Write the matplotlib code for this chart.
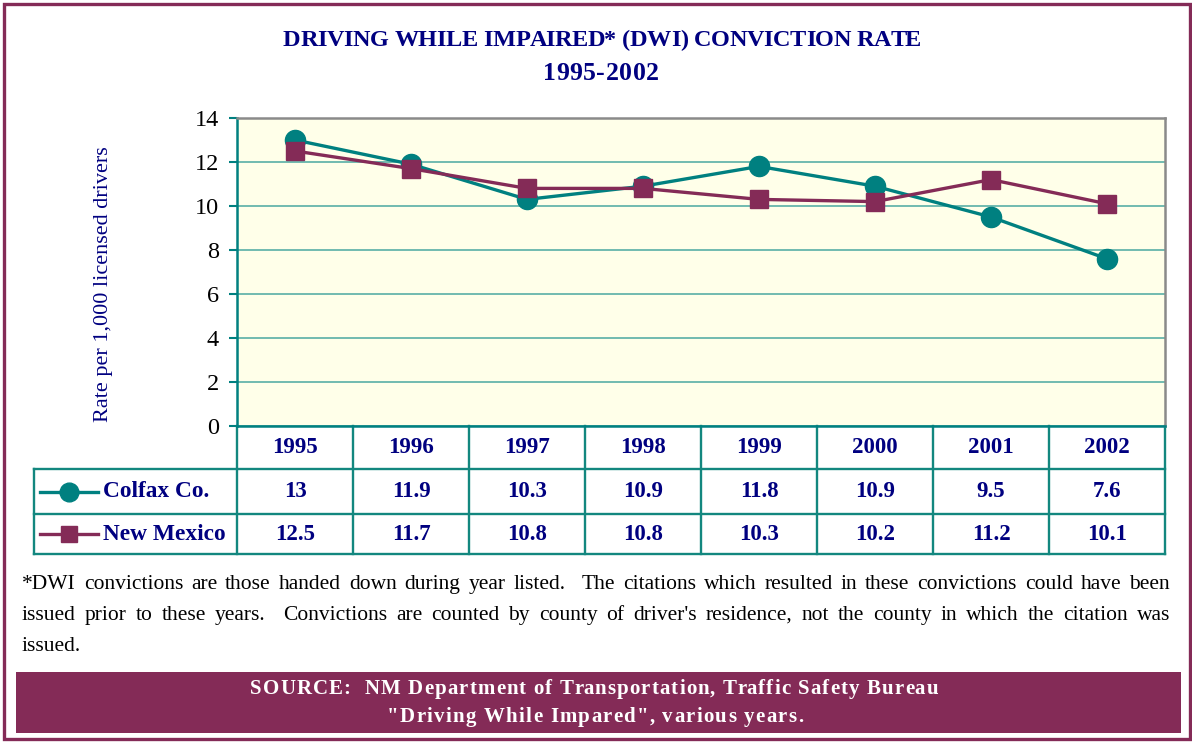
import re
import matplotlib
matplotlib.use("Agg")
import matplotlib.pyplot as plt
from matplotlib.patches import Rectangle
from matplotlib.lines import Line2D
from matplotlib.transforms import blended_transform_factory

# ---- data -------------------------------------------------------------
years = ["1995", "1996", "1997", "1998", "1999", "2000", "2001", "2002"]
colfax = [13, 11.9, 10.3, 10.9, 11.8, 10.9, 9.5, 7.6]
new_mexico = [12.5, 11.7, 10.8, 10.8, 10.3, 10.2, 11.2, 10.1]
series_labels = ["Colfax Co.", "New Mexico"]
y_ticks = [0, 2, 4, 6, 8, 10, 12, 14]

title_lines = ["DRIVING WHILE IMPAIRED* (DWI) CONVICTION RATE", "1995-2002"]
y_label = "Rate per 1,000 licensed drivers"
footnote_lines = [
    "*DWI convictions are those handed down during year listed.  The citations which resulted in these convictions could have been",
    "issued prior to these years.  Convictions are counted by county of driver's residence, not the county in which the citation was",
    "issued.",
]
source_lines = [
    "SOURCE:  NM Department of Transportation, Traffic Safety Bureau",
    "\"Driving While Impared\", various years.",
]

# ---- style ------------------------------------------------------------
TEAL = "#008080"
MAROON = "#842B57"
NAVY = "#000080"
GRID = "#66B5AC"
TABLE = "#13877F"
PLOT_BG = "#FFFFE9"

plt.rcParams["font.family"] = ["Liberation Serif", "DejaVu Serif"]

W, H = 1192, 742
fig = plt.figure(figsize=(W / 100, H / 100), dpi=100)
fig.patch.set_facecolor("white")
renderer = fig.canvas.get_renderer()


def fxy(x, y):
    return x / W, 1 - y / H


def text_width(s, **kw):
    t = fig.text(0, 0, s, **kw)
    w = t.get_window_extent(renderer).width
    t.remove()
    return w


def spaced_text(s, x0, x1, y, **kw):
    """Place the characters of s one by one so the line spans x0..x1 (pixels)."""
    bar = text_width("|", **kw)
    natural = text_width(s, **kw)
    extra = (x1 - x0 - natural) / max(len(s) - 1, 1)
    for i, ch in enumerate(s):
        if ch == " ":
            continue
        off = text_width(s[:i] + "|", **kw) - bar if i else 0.0
        fig.text(*fxy(x0 + off + i * extra, y), ch, ha="left", va="baseline", **kw)


def justified_text(s, x0, x1, y, **kw):
    """Spread the words of s so the line spans x0..x1 (pixels)."""
    parts = re.findall(r"(\S+)(\s*)", s)
    words = [p[0] for p in parts]
    weights = [len(p[1]) for p in parts[:-1]]
    widths = [text_width(w, **kw) for w in words]
    unit = (x1 - x0 - sum(widths)) / max(sum(weights), 1)
    x = x0
    for i, (w, wd) in enumerate(zip(words, widths)):
        fig.text(*fxy(x, y), w, ha="left", va="baseline", **kw)
        if i < len(weights):
            x += wd + unit * weights[i]


# ---- frame ------------------------------------------------------------
fig.patches.append(Rectangle(fxy(4, 739), 1186 / W, 735 / H, transform=fig.transFigure,
                             fill=False, ec=MAROON, lw=2.4))

# ---- title ------------------------------------------------------------
title_kw = dict(color=NAVY, fontweight="bold", fontsize=17.5)
spaced_text(title_lines[0], 283, 921, 46, **title_kw)
spaced_text(title_lines[1], 543, 659, 80, **dict(title_kw, fontsize=18.5))

# ---- plot -------------------------------------------------------------
ax_top, ax_bottom, ax_left, ax_right = 118, 426, 237, 1165
ax = fig.add_axes([ax_left / W, 1 - ax_bottom / H, (ax_right - ax_left) / W,
                   (ax_bottom - ax_top) / H])
ax.set_facecolor(PLOT_BG)
xs = list(range(len(years)))
ax.plot(xs, colfax, color=TEAL, lw=2.4, marker="o", ms=14.5, zorder=3)
ax.plot(xs, new_mexico, color=MAROON, lw=2.4, marker="s", ms=12.5, zorder=4)

ax.set_yticks(y_ticks)
ax.set_xticks([])
ax.yaxis.grid(True, color=GRID, lw=1.3)
ax.set_axisbelow(True)
ax.spines["left"].set_color(TEAL)
ax.spines["bottom"].set_color(TEAL)
ax.spines["top"].set_color("#8A8A8A")
ax.spines["right"].set_color("#8A8A8A")
for sp in ax.spines.values():
    sp.set_linewidth(1.8)
ax.tick_params(axis="y", length=6, width=1.5, color=TEAL, pad=7,
               labelsize=17.5, labelcolor="black")

fig.text(*fxy(104, 284), y_label, rotation=90, ha="center", va="center",
         color=NAVY, fontsize=16)

# ---- data table under the plot ---------------------------------------
trans = blended_transform_factory(ax.transData, ax.transAxes)
ph = ax_bottom - ax_top
rows = [0, -43 / ph, -88 / ph, -128 / ph]
col_w = 1.0  # one category per column
x_left = -0.5
x_right = len(years) - 0.5
px_unit = (ax_right - ax_left) / len(years)


def px_to_x(p):
    return x_left - (ax_left - p) / px_unit


legend_left = px_to_x(34)

line_kw = dict(color=TABLE, lw=1.7, transform=trans, clip_on=False)
for r in rows[1:]:
    ax.add_artist(Line2D([legend_left, x_right], [r, r], **line_kw))
for i in range(len(years) + 1):
    ax.add_artist(Line2D([x_left + i * col_w] * 2, [rows[0], rows[3]], **line_kw))
ax.add_artist(Line2D([legend_left] * 2, [rows[1], rows[3]], **line_kw))

cell_kw = dict(color=NAVY, fontweight="bold", fontsize=16.5, ha="center",
               va="center", transform=trans, clip_on=False)
for i, yr in enumerate(years):
    ax.text(i, (rows[0] + rows[1]) / 2, yr, **cell_kw)

series = [(colfax, TEAL, "o", 14.5), (new_mexico, MAROON, "s", 12.5)]
for k, ((vals, col, mk, ms), name) in enumerate(zip(series, series_labels)):
    yc = (rows[k + 1] + rows[k + 2]) / 2
    for i, v in enumerate(vals):
        ax.text(i, yc, f"{v:g}", **cell_kw)
    ax.add_artist(Line2D([px_to_x(40), px_to_x(98)], [yc, yc], color=col, lw=2.4,
                         transform=trans, clip_on=False))
    ax.add_artist(Line2D([px_to_x(69)], [yc], color=col, marker=mk, ms=ms - 1,
                         transform=trans, clip_on=False))
    ax.text(px_to_x(103), yc, name, color=NAVY, fontweight="bold", fontsize=16.8,
            ha="left", va="center", transform=trans, clip_on=False)

ax.set_xlim(x_left, x_right)
ax.set_ylim(0, 14)

# ---- footnote ---------------------------------------------------------
foot_kw = dict(color="black", fontsize=15.5)
justified_text(footnote_lines[0], 22, 1170, 589, **foot_kw)
justified_text(footnote_lines[1], 22, 1170, 620, **foot_kw)
fig.text(*fxy(22, 651), footnote_lines[2], ha="left", va="baseline", **foot_kw)

# ---- source box -------------------------------------------------------
fig.patches.append(Rectangle(fxy(16, 733), (1181 - 16) / W, (733 - 672) / H,
                             transform=fig.transFigure, fc=MAROON, ec="none"))
src_kw = dict(color="white", fontweight="bold", fontsize=15)
spaced_text(source_lines[0], 250, 938, 694, **src_kw)
spaced_text(source_lines[1], 387, 803, 722, **src_kw)

fig.savefig("out.png", dpi=100, facecolor="white")
